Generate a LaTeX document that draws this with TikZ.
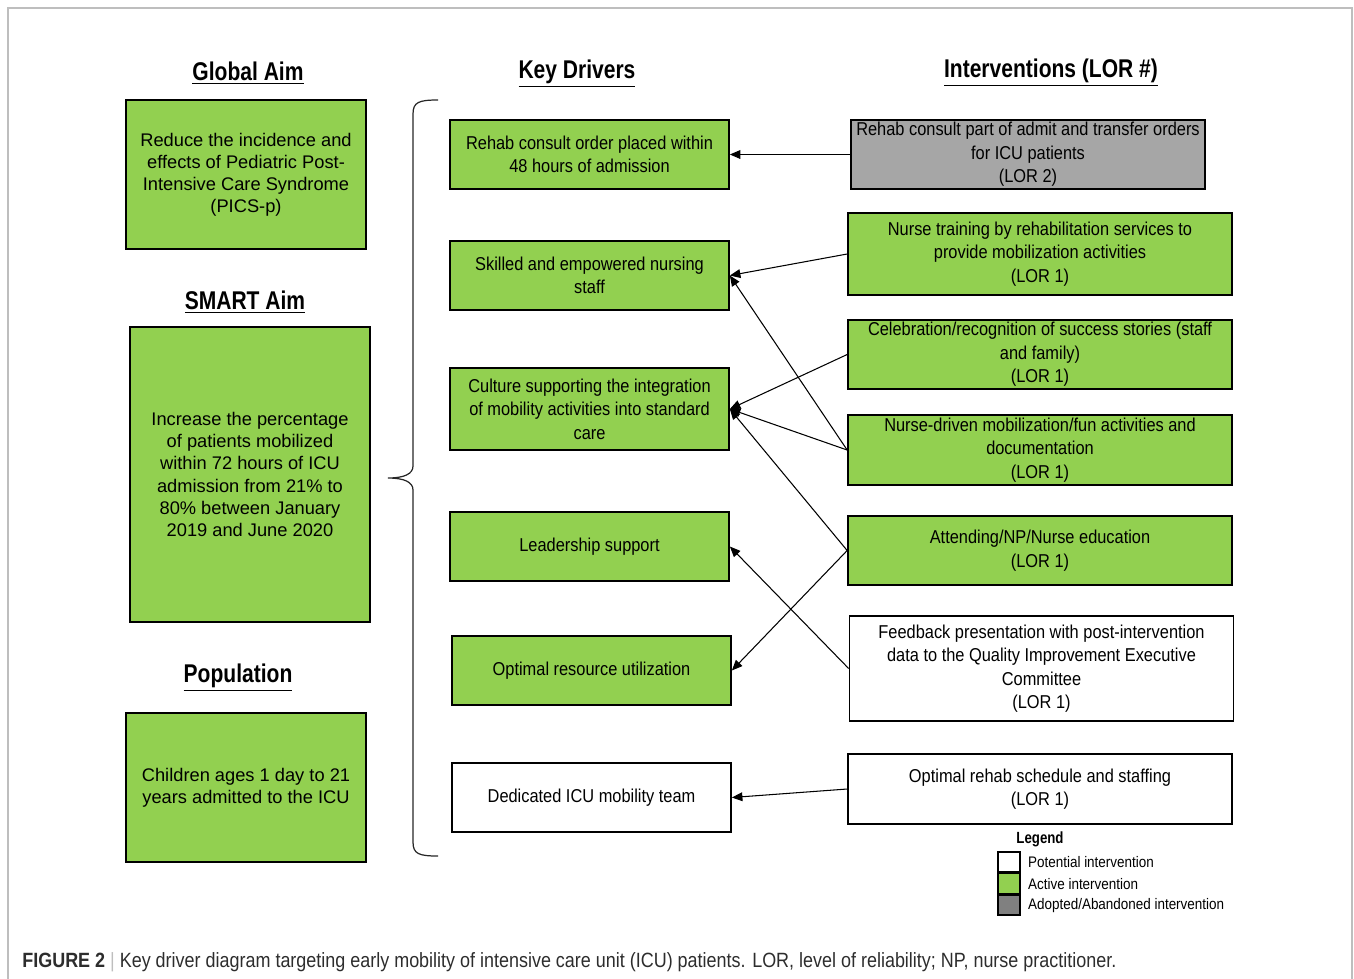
\documentclass[tikz,border=0pt]{standalone}
\usepackage{fontspec}
\setmainfont{Liberation Sans}
\newfontfamily\narrowfont[FakeStretch=0.88]{Liberation Sans}
\newfontfamily\headfont[FakeStretch=0.82]{Liberation Sans}
\newfontfamily\capfont[FakeStretch=0.87]{Liberation Sans}
\usetikzlibrary{arrows.meta, positioning}
\definecolor{activegreen}{RGB}{146, 208, 80}
\definecolor{adoptgray}{RGB}{166, 166, 166}
\definecolor{legendgray}{RGB}{128, 128, 128}
\definecolor{framegray}{RGB}{190, 190, 190}
\definecolor{captext}{RGB}{45, 45, 45}

\begin{document}
\begin{tikzpicture}[x=0.02cm, y=-0.02cm,
  aimbox/.style={draw, line width=1pt, fill=activegreen, minimum width=4.8cm, inner sep=0pt, align=center, font=\fontsize{10.4}{12.6}\selectfont},
  drvbox/.style={draw, line width=1pt, fill=activegreen, minimum width=5.58cm, minimum height=1.38cm, inner sep=0pt, align=center, font=\narrowfont\fontsize{10.6}{13.3}\selectfont},
  intbox/.style={drvbox, minimum width=7.68cm},
  hdr/.style={font=\headfont\bfseries\fontsize{14.6}{16}\selectfont},
  conn/.style={-{Triangle[length=6pt, width=5pt]}, line width=0.6pt},
  legsq/.style={draw, line width=0.9pt, minimum width=0.44cm, minimum height=0.4cm, inner sep=0pt},
  leglbl/.style={anchor=west, inner sep=0pt, font=\narrowfont\fontsize{8.7}{10}\selectfont}]
  \useasboundingbox (0,0) rectangle (1354,978);

  % Frame
  \draw[framegray, line width=0.8pt] (8,1000) -- (8,8) -- (1352,8) -- (1352,1000);

  % Aims and population
  \node[hdr] (globalhd) at (248,73) {\underline{Global Aim}};
  \node[aimbox, minimum height=2.98cm] (globalaim) at (246,174.5) {Reduce the incidence and\\effects of Pediatric Post-\\Intensive Care Syndrome\\(PICS-p)};
  \node[hdr] (smarthd) at (245,302) {\underline{SMART Aim}};
  \node[aimbox, minimum height=5.9cm] (smartaim) at (250,474.5) {Increase the percentage\\of patients mobilized\\within 72 hours of ICU\\admission from 21\% to\\80\% between January\\2019 and June 2020};
  \node[hdr] (pophd) at (238,678) {\underline{Population}};
  \node[aimbox, minimum height=2.98cm] (popaim) at (246,787.5) {Children ages 1 day to 21\\years admitted to the ICU};

  % Brace
  \coordinate (bracetop) at (438,100);
  \coordinate (bracetip) at (388,478);
  \coordinate (bracebot) at (438,856);
  \draw[line width=0.7pt, black!85] (bracetop) .. controls (419,100) and (413,102) .. (413,114)
    -- (413,466) .. controls (413,474) and (404,478) .. (bracetip)
    .. controls (404,478) and (413,482) .. (413,490)
    -- (413,842) .. controls (413,854) and (419,856) .. (bracebot);

  % Key drivers
  \node[hdr] (drvhd) at (577,74) {\underline{Key Drivers}};
  \node[drvbox] (d1) at (589.5,154.5) {Rehab consult order placed within\\48 hours of admission};
  \node[drvbox] (d2) at (589.5,275.5) {Skilled and empowered nursing\\staff};
  \node[drvbox, minimum height=1.64cm] (d3) at (589.5,409) {Culture supporting the integration\\of mobility activities into standard\\care};
  \node[drvbox] (d4) at (589.5,546.5) {Leadership support};
  \node[drvbox] (d5) at (591.5,670.5) {Optimal resource utilization};
  \node[drvbox, fill=white] (d6) at (591.5,797.5) {Dedicated ICU mobility team};

  % Interventions
  \node[hdr] (inthd) at (1051,73) {\underline{Interventions (LOR \#)}};
  \node[intbox, fill=adoptgray, minimum width=7.08cm] (i1) at (1028,154.5) {Rehab consult part of admit and transfer orders\\for ICU patients\\(LOR 2)};
  \node[intbox, minimum height=1.64cm] (i2) at (1040,254) {Nurse training by rehabilitation services to\\provide mobilization activities\\(LOR 1)};
  \node[intbox] (i3) at (1040,354.5) {Celebration/recognition of success stories (staff\\and family)\\(LOR 1)};
  \node[intbox, minimum height=1.4cm] (i4) at (1040,450) {Nurse-driven mobilization/fun activities and\\documentation\\(LOR 1)};
  \node[intbox] (i5) at (1040,550.5) {Attending/NP/Nurse education\\(LOR 1)};
  \node[intbox, fill=white, minimum height=2.1cm] (i6) at (1041.5,668.5) {Feedback presentation with post-intervention\\data to the Quality Improvement Executive\\Committee\\(LOR 1)};
  \node[intbox, fill=white, minimum height=1.4cm] (i7) at (1040,789) {Optimal rehab schedule and staffing\\(LOR 1)};

  % Links
  \draw[conn] (i1.west) -- (d1.east);
  \draw[conn] (i2.west) -- (d2.east);
  \draw[conn] (i3.west) -- (d3.east);
  \draw[conn] (i4.west) -- (d2.east);
  \draw[conn] (i4.west) -- (d3.east);
  \draw[conn] (i5.west) -- (d3.east);
  \draw[conn] (i5.west) -- (d5.east);
  \draw[conn] (i6.west) -- (d4.east);
  \draw[conn] (i7.west) -- (d6.east);

  % Legend
  \node[font=\headfont\bfseries\fontsize{9.2}{11}\selectfont] (leghd) at (1040,839) {Legend};
  \node[legsq] (lpot) at (1009,862) {};
  \node[legsq, fill=activegreen, below=0pt of lpot] (lact) {};
  \node[legsq, fill=legendgray, below=0pt of lact] (ladopt) {};
  \node[leglbl, right=4pt of lpot] (lpottxt) {Potential intervention};
  \node[leglbl, right=4pt of lact] (lacttxt) {Active intervention};
  \node[leglbl, right=4pt of ladopt] (ladopttxt) {Adopted/Abandoned intervention};

  % Caption
  \node[anchor=west, inner sep=0pt, text=captext, font=\capfont\fontsize{11.75}{13}\selectfont] (caption) at (22,962) {\textbf{FIGURE 2} \textcolor{framegray}{|} Key driver diagram targeting early mobility of intensive care unit (ICU) patients. LOR, level of reliability; NP, nurse practitioner.};
\end{tikzpicture}
\end{document}
